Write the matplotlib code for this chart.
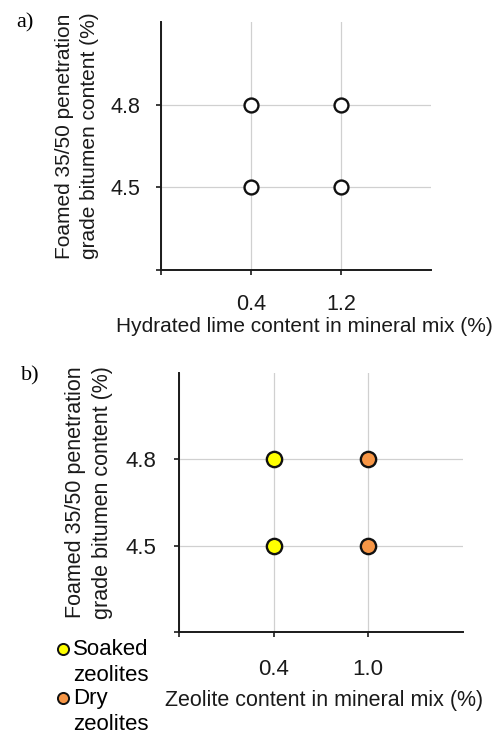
import matplotlib
matplotlib.use('Agg')
import matplotlib.pyplot as plt
from matplotlib.lines import Line2D
from matplotlib.legend_handler import HandlerLine2D

plt.rcParams['font.family'] = ['Liberation Sans', 'DejaVu Sans']

# data
bitumen = [4.5, 4.8]
lime_labels = ['0.4', '1.2']
zeolite_labels = ['0.4', '1.0']
series_b = ['Soaked\nzeolites', 'Dry\nzeolites']
colors_b = ['#FFFF00', '#F79646']

fig = plt.figure(figsize=(4.96, 7.36), dpi=100)
ax_a = fig.add_axes([0.3246, 0.6332, 0.5444, 0.3368])
ax_b = fig.add_axes([0.361, 0.1413, 0.572, 0.3519])


def style(ax, xlabels, xlabel, fs, xpad, ypad):
    ax.set_xlim(0, 3)
    ax.set_ylim(4.2, 5.1)
    ax.set_xticks([0, 1, 2])
    ax.set_xticklabels([''] + xlabels)
    ax.set_yticks([4.2] + bitumen)
    ax.set_yticklabels([''] + [f'{v:.1f}' for v in bitumen])
    ax.spines['top'].set_visible(False)
    ax.spines['right'].set_visible(False)
    for s in ['left', 'bottom']:
        ax.spines[s].set_linewidth(1.4)
        ax.spines[s].set_color('#1a1a1a')
    ax.grid(True, color='#d0d0d0', linewidth=0.9)
    ax.set_axisbelow(True)
    ax.tick_params(direction='out', length=3.5, width=1.2, labelsize=fs + 0.5,
                   color='#1a1a1a', labelcolor='#1a1a1a')
    ax.tick_params(axis='x', pad=xpad)
    ax.tick_params(axis='y', pad=ypad)
    ax.set_xlabel(xlabel, fontsize=fs, color='#1a1a1a')
    ax.set_ylabel('Foamed 35/50 penetration\ngrade bitumen content (%)',
                  fontsize=fs, color='#1a1a1a', linespacing=1.4)


# panel a
style(ax_a, lime_labels, 'Hydrated lime content in mineral mix (%)', 15, 14, 11)
ax_a.xaxis.set_label_coords(0.53, -0.19)
ax_a.yaxis.set_label_coords(-0.228, 0.54)
for i in range(len(lime_labels)):
    ax_a.plot([i + 1] * len(bitumen), bitumen, 'o', ms=10, mfc='white',
              mec='#111111', mew=1.7, ls='none', clip_on=False)

# panel b
style(ax_b, zeolite_labels, 'Zeolite content in mineral mix (%)', 15.5, 16, 13)
ax_b.xaxis.set_label_coords(0.51, -0.224)
ax_b.yaxis.set_label_coords(-0.232, 0.54)
for i in range(len(zeolite_labels)):
    ax_b.plot([i + 1] * len(bitumen), bitumen, 'o', ms=11, mfc=colors_b[i],
              mec='#111111', mew=1.7, ls='none', clip_on=False)


class TopLineHandler(HandlerLine2D):
    # put the marker on the first line of a two-line label
    def create_artists(self, legend, orig_handle, xdescent, ydescent,
                       width, height, fontsize, trans):
        arts = super().create_artists(legend, orig_handle, xdescent, ydescent,
                                      width, height, fontsize, trans)
        for a in arts:
            a.set_ydata([y + 0.62 * fontsize for y in a.get_ydata()])
        return arts


handles = [Line2D([], [], marker='o', ls='none', ms=8, mfc=c, mec='#111111', mew=1.4)
           for c in colors_b]
leg = fig.legend(handles, series_b, loc='upper left', bbox_to_anchor=(0.114, 0.132),
                 frameon=False, fontsize=16, handlelength=0.6, handletextpad=0.15,
                 labelspacing=0.1, borderaxespad=0, borderpad=0,
                 handler_map={Line2D: TopLineHandler()})
for t in leg.get_texts():
    t.set_linespacing(1.3)

fig.text(0.032, 0.982, 'a)', family='Liberation Serif', fontsize=16, va='top')
fig.text(0.043, 0.502, 'b)', family='Liberation Serif', fontsize=16, va='top')

fig.savefig('out.png', dpi=100)
